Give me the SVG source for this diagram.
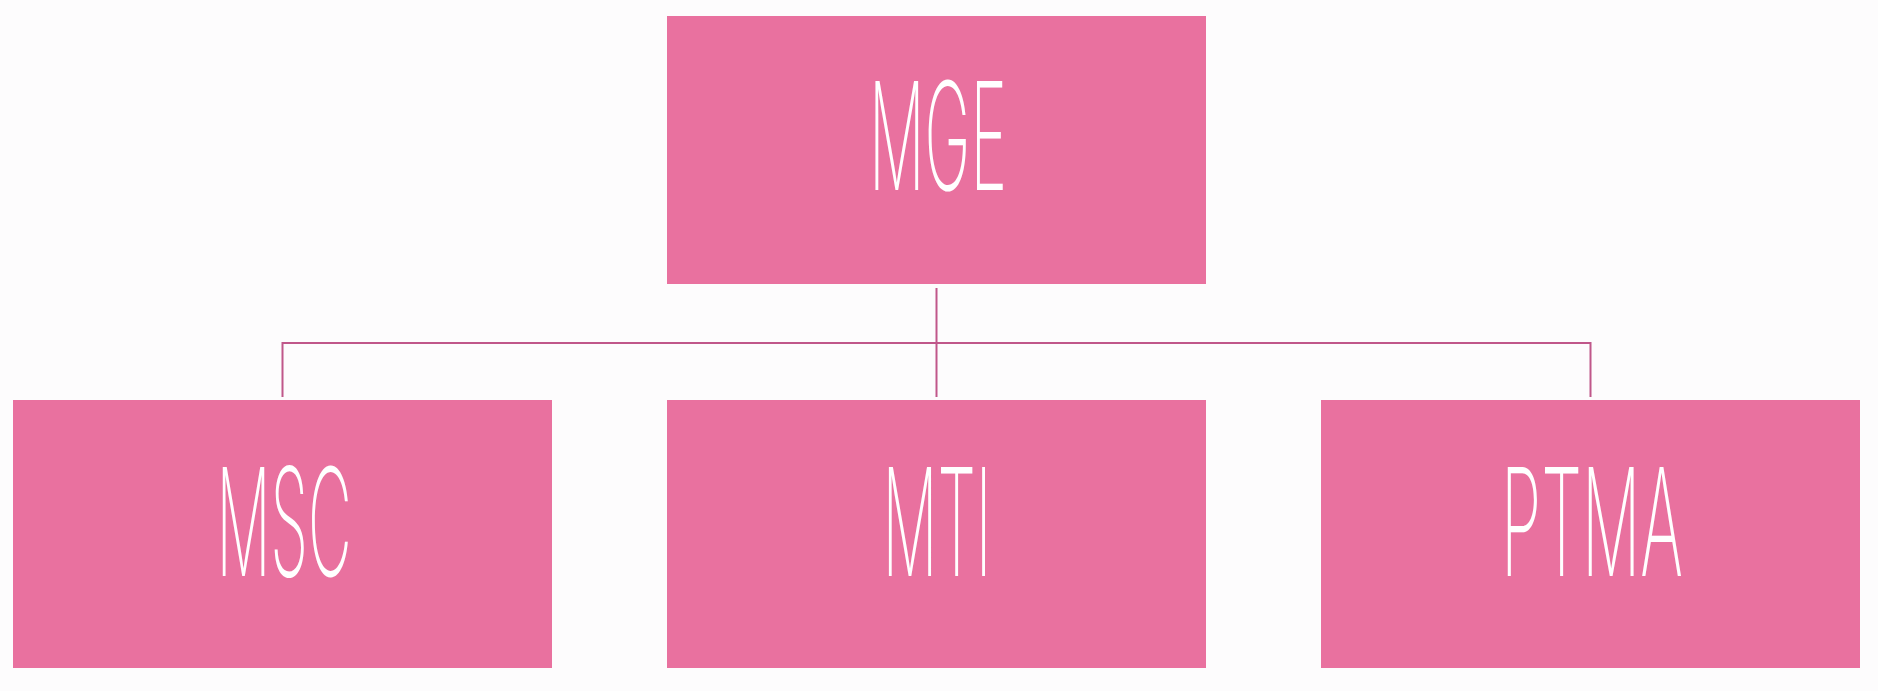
<svg xmlns="http://www.w3.org/2000/svg" width="1878" height="691" viewBox="0 0 1878 691">
<style>
.box{fill:#E9719F;}
.lbl{fill:#FFFFFF;font-family:Inter,"Open Sans","Liberation Sans",sans-serif;font-weight:200;font-size:150px;text-anchor:middle;}
.conn{fill:none;stroke:#C0578A;stroke-width:2;}
</style>
<rect x="0" y="0" width="1878" height="691" fill="#FDFCFD"/>
<g id="connectors">
<line class="conn" x1="936.5" y1="288" x2="936.5" y2="397"/>
<polyline class="conn" points="282.5,397 282.5,343 1590.5,343 1590.5,397"/>
</g>
<g id="node-mge">
<rect class="box" x="667" y="16" width="539" height="268"/>
<text class="lbl" x="938" y="190" textLength="138" lengthAdjust="spacingAndGlyphs">MGE</text>
</g>
<g id="node-msc">
<rect class="box" x="13" y="400" width="539" height="268"/>
<text class="lbl" x="284" y="576" textLength="135" lengthAdjust="spacingAndGlyphs">MSC</text>
</g>
<g id="node-mti">
<rect class="box" x="667" y="400" width="539" height="268"/>
<text class="lbl" x="937" y="576" textLength="109" lengthAdjust="spacingAndGlyphs">MTI</text>
</g>
<g id="node-ptma">
<rect class="box" x="1321" y="400" width="539" height="268"/>
<text class="lbl" x="1592" y="576" textLength="182" lengthAdjust="spacingAndGlyphs">PTMA</text>
</g>
</svg>
